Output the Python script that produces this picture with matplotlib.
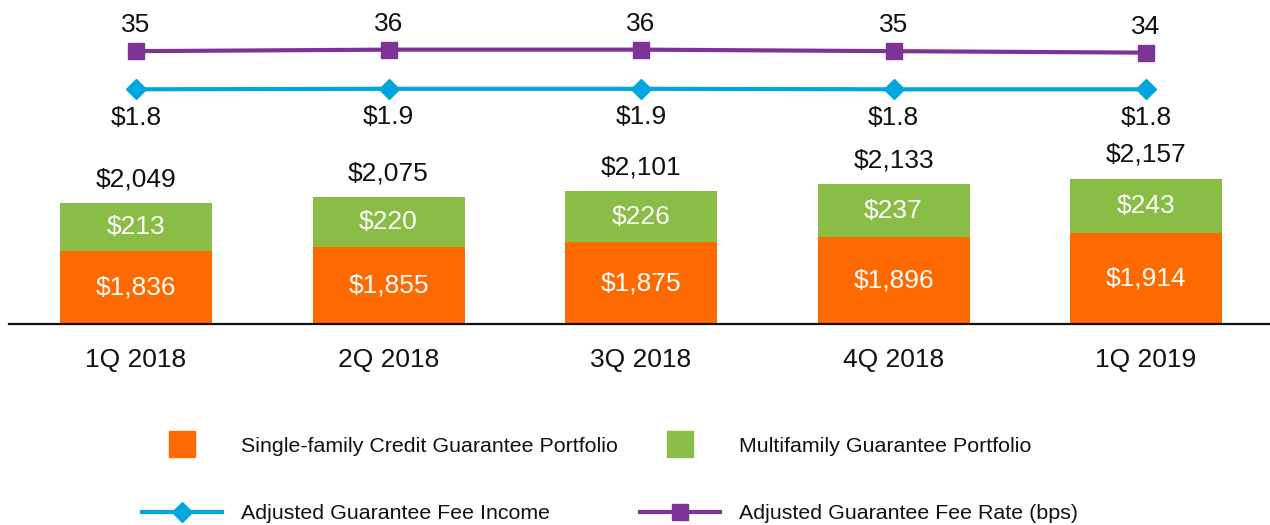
import matplotlib
matplotlib.use("Agg")
import matplotlib.pyplot as plt
from matplotlib.lines import Line2D
from matplotlib.patches import Patch, Rectangle
from matplotlib.legend_handler import HandlerPatch

# ---- data ----
quarters = ["1Q 2018", "2Q 2018", "3Q 2018", "4Q 2018", "1Q 2019"]
single_family = [1836, 1855, 1875, 1896, 1914]
multifamily = [213, 220, 226, 237, 243]
totals = [2049, 2075, 2101, 2133, 2157]
fee_income = [1.8, 1.9, 1.9, 1.8, 1.8]
fee_rate = [35, 36, 36, 35, 34]

ORANGE = "#FF6A00"
GREEN = "#8ABD45"
PURPLE = "#7D3496"
BLUE = "#00A6E0"
TXT = "#111111"

plt.rcParams["font.family"] = ["Liberation Sans", "DejaVu Sans"]

W, H = 1270, 525
fig = plt.figure(figsize=(W / 100, H / 100), dpi=100)
base_px = 324
ax = fig.add_axes([9 / W, (H - base_px) / H, 1261 / W, base_px / H])

x = list(range(len(quarters)))
ax.set_xlim(-0.503, 4.491)
ymin, ymax = 1512, 2949
ax.set_ylim(ymin, ymax)

FS = 19
bw = 0.602
ax.bar(x, single_family, width=bw, color=ORANGE, zorder=2)
ax.bar(x, multifamily, width=bw, bottom=single_family, color=GREEN, zorder=2)

for xi, sf, mf, tot in zip(x, single_family, multifamily, totals):
    ax.text(xi, (ymin + sf) / 2, f"${sf:,}", ha="center", va="center",
            color="white", fontsize=FS)
    ax.text(xi, sf + mf / 2, f"${mf:,}", ha="center", va="center",
            color="white", fontsize=FS)
    ax.annotate(f"${tot:,}", (xi, tot), xytext=(0, 17), textcoords="offset points",
                ha="center", va="center", color=TXT, fontsize=FS)

for s in ["top", "left", "right"]:
    ax.spines[s].set_visible(False)
ax.spines["bottom"].set_color("#111111")
ax.spines["bottom"].set_linewidth(1.6)
ax.spines["bottom"].set_zorder(3)
ax.set_yticks([])
ax.set_xticks(x)
ax.set_xticklabels(quarters, fontsize=FS, color=TXT)
ax.tick_params(axis="x", length=0, pad=17)

# ---- line axes ----
ax_r = ax.twinx()
ax_r.set_ylim(-146.9, 69.1)
ax_r.plot(x, fee_rate, color=PURPLE, lw=3, marker="s", ms=11.5, zorder=3)
for xi, v in zip(x, fee_rate):
    ax_r.annotate(f"{v}", (xi, v), xytext=(0, 18.5), textcoords="offset points",
                  ha="center", va="center", color=TXT, fontsize=FS)

ax_i = ax.twinx()
ax_i.set_ylim(-45.14, 19.66)
ax_i.plot(x, fee_income, color=BLUE, lw=3, marker="D", ms=10.5, zorder=3)
for xi, v in zip(x, fee_income):
    ax_i.annotate(f"${v:.1f}", (xi, v), xytext=(0, -20.5), textcoords="offset points",
                  ha="center", va="center", color=TXT, fontsize=FS)

for a in (ax_r, ax_i):
    a.set_axis_off()

# ---- legend ----
def square_patch(legend, orig_handle, xdescent, ydescent, width, height, fontsize):
    s = 18.7
    return Rectangle((-xdescent + width / 2 - s / 2, -ydescent + height / 2 - s / 2), s, s)

handles = [
    Patch(color=ORANGE, label="Single-family Credit Guarantee Portfolio"),
    Line2D([], [], color=BLUE, lw=3, marker="D", ms=10.5, label="Adjusted Guarantee Fee Income"),
    Patch(color=GREEN, label="Multifamily Guarantee Portfolio"),
    Line2D([], [], color=PURPLE, lw=3, marker="s", ms=11.5, label="Adjusted Guarantee Fee Rate (bps)"),
]
LFS = 15.4
leg = fig.legend(handles=handles, ncol=2, loc="center left",
                 bbox_to_anchor=(142 / W, (H - 480) / H), frameon=False,
                 fontsize=LFS, handlelength=57.6 / LFS, handletextpad=13.7 / LFS,
                 columnspacing=1.03, labelspacing=2.29, borderpad=0,
                 borderaxespad=0, numpoints=1,
                 handler_map={Patch: HandlerPatch(patch_func=square_patch)})
for t in leg.get_texts():
    t.set_color(TXT)

fig.savefig("out.png", dpi=100)
